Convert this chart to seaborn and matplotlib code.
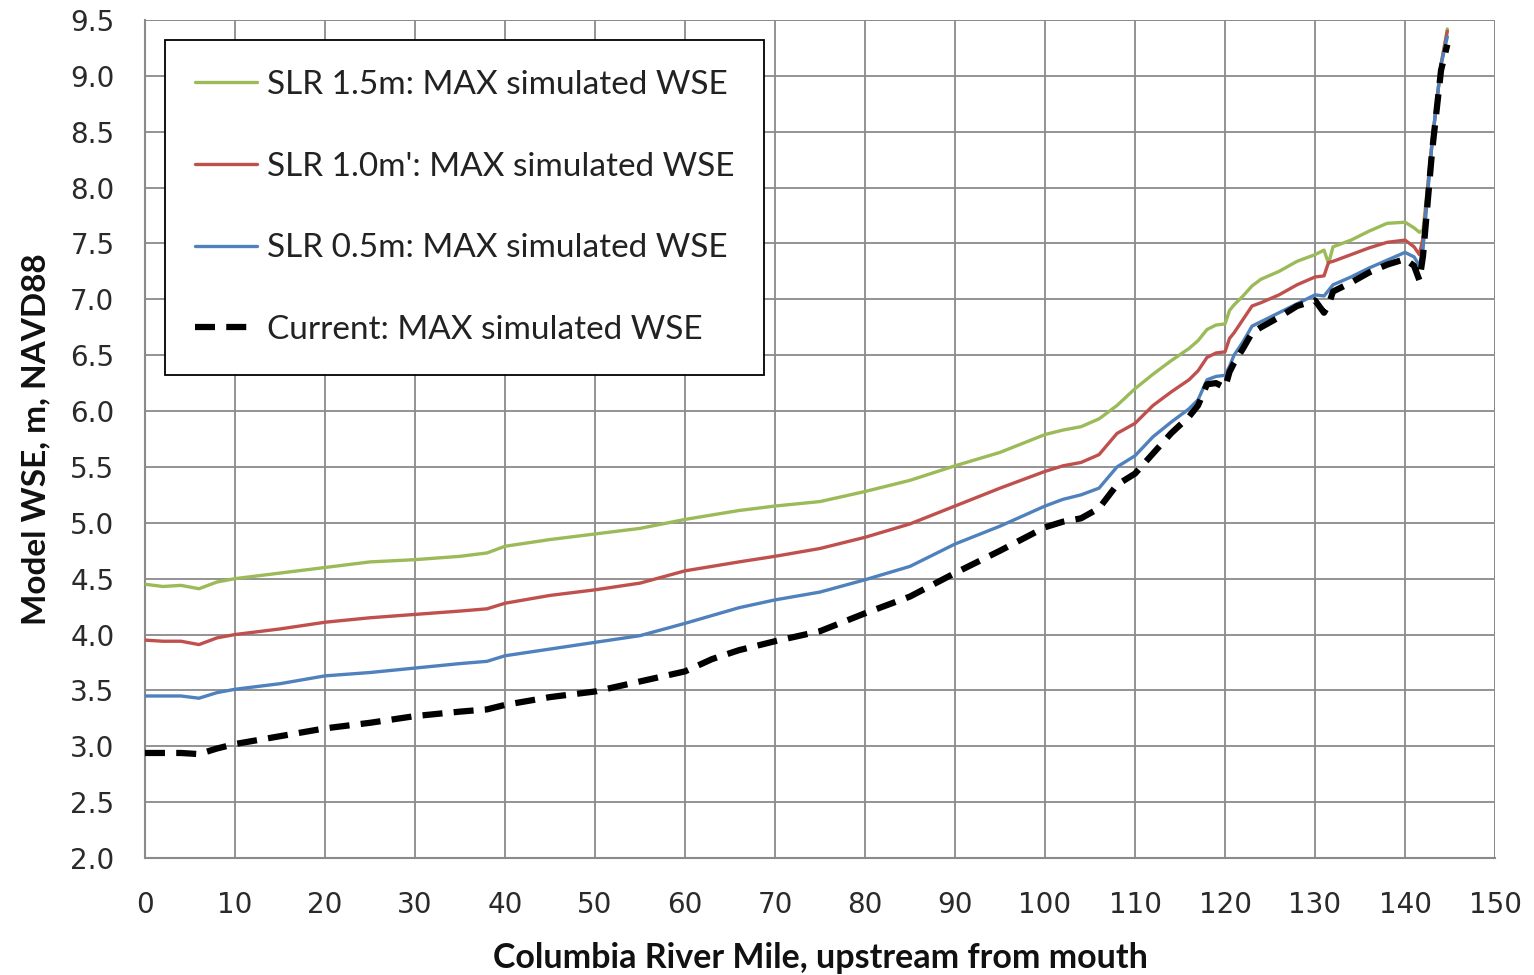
import numpy as np
import pandas as pd
import matplotlib
matplotlib.use("Agg")
import matplotlib.pyplot as plt
import seaborn as sns

# ---- data ----
miles = [0, 2, 4, 6, 8, 10, 15, 20, 25, 30, 35, 38, 40, 45, 50, 55, 60, 63, 66, 70,
         75, 80, 85, 90, 95, 100, 102, 104, 106, 108, 110, 112, 114, 116, 117, 118,
         119, 120, 120.5, 121, 122, 123, 124, 126, 128, 130, 131, 131.5, 132, 134,
         136, 138, 140, 141, 141.6, 142, 143, 144, 144.7]

slr15 = [4.45, 4.43, 4.44, 4.41, 4.47, 4.50, 4.55, 4.60, 4.65, 4.67, 4.70, 4.73, 4.79,
         4.85, 4.90, 4.95, 5.03, 5.07, 5.11, 5.15, 5.19, 5.28, 5.38, 5.51, 5.63, 5.79,
         5.83, 5.86, 5.93, 6.05, 6.20, 6.33, 6.45, 6.56, 6.63, 6.73, 6.77, 6.78, 6.90,
         6.95, 7.03, 7.12, 7.18, 7.25, 7.34, 7.40, 7.44, 7.32, 7.47, 7.53, 7.61, 7.68,
         7.69, 7.64, 7.60, 7.62, 8.40, 9.10, 9.42]

slr10 = [3.95, 3.94, 3.94, 3.91, 3.97, 4.00, 4.05, 4.11, 4.15, 4.18, 4.21, 4.23, 4.28,
         4.35, 4.40, 4.46, 4.57, 4.61, 4.65, 4.70, 4.77, 4.87, 4.99, 5.15, 5.31, 5.46,
         5.51, 5.54, 5.61, 5.80, 5.89, 6.05, 6.17, 6.28, 6.36, 6.48, 6.52, 6.53, 6.65,
         6.70, 6.82, 6.94, 6.97, 7.04, 7.13, 7.20, 7.21, 7.33, 7.34, 7.40, 7.46, 7.51,
         7.53, 7.47, 7.40, 7.55, 8.40, 9.10, 9.40]

slr05 = [3.45, 3.45, 3.45, 3.43, 3.48, 3.51, 3.56, 3.63, 3.66, 3.70, 3.74, 3.76, 3.81,
         3.87, 3.93, 3.99, 4.10, 4.17, 4.24, 4.31, 4.38, 4.49, 4.61, 4.81, 4.97, 5.15,
         5.21, 5.25, 5.31, 5.50, 5.60, 5.77, 5.90, 6.02, 6.10, 6.28, 6.31, 6.32, 6.40,
         6.50, 6.62, 6.76, 6.80, 6.88, 6.96, 7.04, 7.03, 7.08, 7.13, 7.20, 7.28, 7.35,
         7.42, 7.38, 7.30, 7.45, 8.40, 9.10, 9.35]

current = [2.94, 2.94, 2.94, 2.93, 2.98, 3.02, 3.09, 3.16, 3.21, 3.27, 3.31, 3.33, 3.37,
           3.44, 3.49, 3.58, 3.67, 3.78, 3.86, 3.94, 4.03, 4.19, 4.34, 4.55, 4.75, 4.96,
           5.01, 5.04, 5.13, 5.34, 5.44, 5.62, 5.80, 5.95, 6.05, 6.24, 6.25, 6.21, 6.35,
           6.43, 6.56, 6.70, 6.75, 6.84, 6.94, 6.99, 6.88, 6.95, 7.07, 7.15, 7.24, 7.31,
           7.36, 7.30, 7.17, 7.39, 8.32, 9.05, 9.28]

labels = ["SLR 1.5m: MAX simulated WSE",
          "SLR 1.0m': MAX simulated WSE",
          "SLR 0.5m: MAX simulated WSE",
          "Current: MAX simulated WSE"]

x_ticks = list(range(0, 151, 10))
y_ticks = [2.0, 2.5, 3.0, 3.5, 4.0, 4.5, 5.0, 5.5, 6.0, 6.5, 7.0, 7.5, 8.0, 8.5, 9.0, 9.5]

# ---- style ----
sns.set_theme(style="white")
plt.rcParams['font.family'] = ['Lato', 'DejaVu Sans']

fig = plt.figure(figsize=(15.34, 9.75), dpi=100)
ax = fig.add_axes([0.0945, 0.12, 0.8801, 0.8595])

colors = ["#9BBB59", "#C0504D", "#4F81BD", "#000000"]
series = [slr15, slr10, slr05, current]

for vals, lab, col in zip(series, labels, colors):
    df = pd.DataFrame({"mile": miles, "wse": vals})
    if col == "#000000":
        sns.lineplot(data=df, x="mile", y="wse", ax=ax, color=col, linewidth=4.5,
                     label=lab, sort=False, estimator=None, zorder=4)
        ax.lines[-1].set_dashes((3.2, 1.8))
        ax.lines[-1].set_dash_capstyle("butt")
    else:
        sns.lineplot(data=df, x="mile", y="wse", ax=ax, color=col, linewidth=2.4,
                     label=lab, sort=False, estimator=None, zorder=3)

ax.set_xlim(0, 150)
ax.set_ylim(2.0, 9.5)
ax.set_xticks(x_ticks)
ax.set_yticks(y_ticks)
ax.set_yticklabels([f"{v:.1f}" for v in y_ticks])
ax.grid(True, color="#8a8a8a", linewidth=1.3)
ax.set_axisbelow(True)
for s in ["top", "right"]:
    ax.spines[s].set_visible(False)
for s in ["left", "bottom"]:
    ax.spines[s].set_color("#8a8a8a")
    ax.spines[s].set_linewidth(1.5)
ax.axhline(9.5, color="#8a8a8a", linewidth=1.3, zorder=0)
ax.axvline(150, color="#8a8a8a", linewidth=1.3, zorder=0)

ax.tick_params(axis="both", which="major", direction="out", length=8, width=1.3,
               color="#8a8a8a", labelsize=20, labelcolor="#2a2a2a")
for lbl in ax.get_xticklabels() + ax.get_yticklabels():
    lbl.set_family(["DejaVu Sans"])
ax.tick_params(axis="x", pad=16)
ax.tick_params(axis="y", pad=14)

ax.set_xlabel("Columbia River Mile, upstream from mouth", fontsize=24.5,
              fontweight="bold", family=["Lato", "DejaVu Sans"], labelpad=16,
              color="#111111")
ax.set_ylabel("Model WSE, m, NAVD88", fontsize=24, fontweight="bold",
              family=["Lato", "DejaVu Sans"], labelpad=14, color="#111111")

leg = ax.legend(loc="upper left", bbox_to_anchor=(0.0148, 0.976),
                frameon=True, fancybox=False, handlelength=1.85, handletextpad=0.3,
                labelspacing=1.55, borderpad=0.9, borderaxespad=0.0,
                prop={"family": ["Lato", "DejaVu Sans"], "size": 24})
leg.get_frame().set_edgecolor("#000000")
leg.get_frame().set_linewidth(1.3)
leg.get_frame().set_alpha(1.0)
for t in leg.get_texts():
    t.set_color("#222222")

fig.savefig("out.png", dpi=100, facecolor="white")
